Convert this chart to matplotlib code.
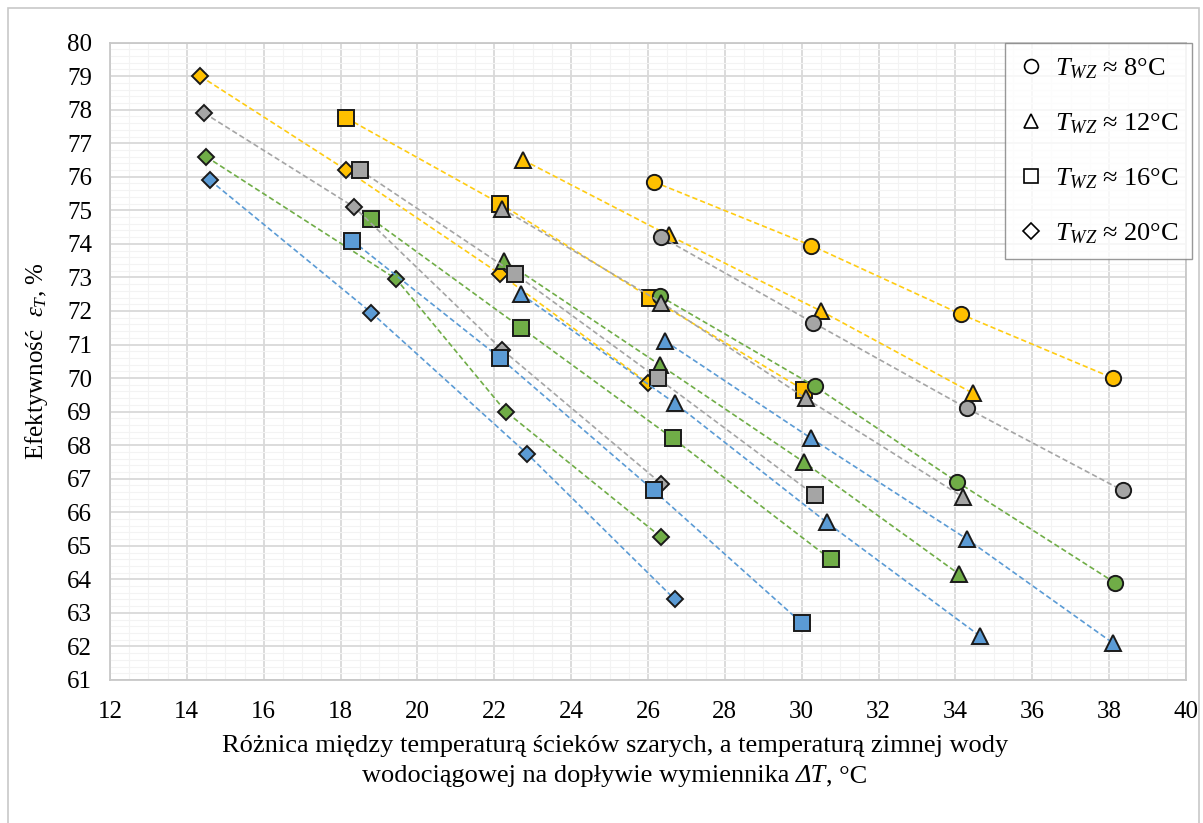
import matplotlib
matplotlib.use("Agg")
import matplotlib.pyplot as plt
from matplotlib.lines import Line2D
from matplotlib.patches import Rectangle
from matplotlib.ticker import MultipleLocator

plt.rcParams["font.family"] = ["Liberation Serif", "DejaVu Serif"]
plt.rcParams["mathtext.fontset"] = "custom"
plt.rcParams["mathtext.rm"] = "Liberation Serif"
plt.rcParams["mathtext.it"] = "Liberation Serif:italic"

# ---- measured points: temperature difference dT [°C] and effectiveness [%] ----
# yellow series
dt_yel_circ = [26.15, 30.25, 34.15, 38.10]
ef_yel_circ = [75.85, 73.95, 71.90, 70.00]
dt_yel_tri = [22.75, 26.55, 30.50, 34.45]
ef_yel_tri = [76.50, 74.25, 72.00, 69.55]
dt_yel_sq = [18.15, 22.15, 26.05, 30.05]
ef_yel_sq = [77.75, 75.20, 72.40, 69.65]
dt_yel_dia = [14.35, 18.15, 22.15, 26.00]
ef_yel_dia = [79.00, 76.20, 73.10, 69.85]

# green series
dt_grn_circ = [26.30, 30.35, 34.05, 38.15]
ef_grn_circ = [72.45, 69.75, 66.90, 63.90]
dt_grn_tri = [22.25, 26.30, 30.05, 34.10]
ef_grn_tri = [73.50, 70.40, 67.50, 64.15]
dt_grn_sq = [18.80, 22.70, 26.65, 30.75]
ef_grn_sq = [74.75, 71.50, 68.20, 64.60]
dt_grn_dia = [14.50, 19.45, 22.30, 26.35]
ef_grn_dia = [76.60, 72.95, 69.00, 65.25]

# grey series
dt_gry_circ = [26.35, 30.30, 34.30, 38.35]
ef_gry_circ = [74.20, 71.65, 69.10, 66.65]
dt_gry_tri = [22.20, 26.35, 30.10, 34.20]
ef_gry_tri = [75.05, 72.25, 69.40, 66.45]
dt_gry_sq = [18.50, 22.55, 26.25, 30.35]
ef_gry_sq = [76.20, 73.10, 70.00, 66.50]
dt_gry_dia = [14.45, 18.35, 22.20, 26.35]
ef_gry_dia = [77.90, 75.10, 70.85, 66.85]

# blue series
dt_blu_tri_a = [26.45, 30.25, 34.30, 38.10]
ef_blu_tri_a = [71.10, 68.20, 65.20, 62.10]
dt_blu_tri = [22.70, 26.70, 30.65, 34.65]
ef_blu_tri = [72.50, 69.25, 65.70, 62.30]
dt_blu_sq = [18.30, 22.15, 26.15, 30.00]
ef_blu_sq = [74.10, 70.60, 66.65, 62.70]
dt_blu_dia = [14.60, 18.80, 22.85, 26.70]
ef_blu_dia = [75.90, 71.95, 67.75, 63.40]

legend_labels = [r"$T_{WZ}$ ≈ 8°C", r"$T_{WZ}$ ≈ 12°C",
                 r"$T_{WZ}$ ≈ 16°C", r"$T_{WZ}$ ≈ 20°C"]

YELLOW = "#FFC000"
YELLOW_LINE = "#FFCC12"
GREY = "#A5A5A5"
GREEN = "#70AD47"
BLUE = "#5B9BD5"

W, H = 1203, 823
fig = plt.figure(figsize=(W / 100, H / 100), dpi=100)
fig.patches.append(Rectangle((8 / W, -0.01), (1199 - 8) / W, 1.0 - 8 / H + 0.01,
                             transform=fig.transFigure, fill=False,
                             edgecolor="#c8c8c8", linewidth=1.2))

ax = fig.add_axes([110 / W, 1 - 680 / H, (1186 - 110) / W, (680 - 42.6) / H])

marker_style = {"o": 11, "^": 11, "s": 11, "D": 8.5}


def series(x, y, color, marker, line_color=None):
    ax.plot(x, y, linestyle=(0, (3.2, 1.8)), linewidth=1.2,
            color=line_color or color, marker=marker,
            markersize=marker_style[marker], markerfacecolor=color,
            markeredgecolor="#1a1a1a", markeredgewidth=1.4, zorder=3)


series(dt_yel_circ, ef_yel_circ, YELLOW, "o", YELLOW_LINE)
series(dt_yel_tri, ef_yel_tri, YELLOW, "^", YELLOW_LINE)
series(dt_yel_sq, ef_yel_sq, YELLOW, "s", YELLOW_LINE)
series(dt_yel_dia, ef_yel_dia, YELLOW, "D", YELLOW_LINE)

series(dt_grn_circ, ef_grn_circ, GREEN, "o")
series(dt_grn_tri, ef_grn_tri, GREEN, "^")
series(dt_grn_sq, ef_grn_sq, GREEN, "s")
series(dt_grn_dia, ef_grn_dia, GREEN, "D")

series(dt_gry_circ, ef_gry_circ, GREY, "o")
series(dt_gry_tri, ef_gry_tri, GREY, "^")
series(dt_gry_sq, ef_gry_sq, GREY, "s")
series(dt_gry_dia, ef_gry_dia, GREY, "D")

series(dt_blu_tri_a, ef_blu_tri_a, BLUE, "^")
series(dt_blu_tri, ef_blu_tri, BLUE, "^")
series(dt_blu_sq, ef_blu_sq, BLUE, "s")
series(dt_blu_dia, ef_blu_dia, BLUE, "D")

ax.set_xlim(12, 40)
ax.set_ylim(61, 80)
ax.xaxis.set_major_locator(MultipleLocator(2))
ax.yaxis.set_major_locator(MultipleLocator(1))
ax.xaxis.set_minor_locator(MultipleLocator(0.5))
ax.yaxis.set_minor_locator(MultipleLocator(0.2))
ax.grid(which="major", color="#d9d9d9", linewidth=1.3, zorder=0)
ax.grid(which="minor", color="#f3f3f3", linewidth=0.8, zorder=0)
ax.set_axisbelow(True)
for s in ax.spines.values():
    s.set_color("#c8c8c8")
    s.set_linewidth(1.3)
ax.tick_params(which="both", length=0)
ax.tick_params(axis="x", pad=15, labelsize=18)
ax.tick_params(axis="y", pad=13, labelsize=18)

ax.set_ylabel(r"Efektywność  $\varepsilon_T$, %", fontsize=18, labelpad=12)

# two-line axis title under the x axis; "ΔT" is set in italics
xt_size = 19
fig.text(615 / W, 1 - 746 / H,
         "Różnica między temperaturą ścieków szarych, a temperaturą zimnej wody",
         ha="center", va="center", fontsize=xt_size)
parts = [("wodociągowej na dopływie wymiennika ", "normal"),
         ("ΔT", "italic"), (", °C", "normal")]
renderer = fig.canvas.get_renderer()
pieces = []
for txt, style in parts:
    t = fig.text(0, 1 - 776 / H, txt, ha="left", va="center",
                 fontsize=xt_size, fontstyle=style)
    pieces.append(t)
widths = [p.get_window_extent(renderer).width for p in pieces]
x0 = 615 - sum(widths) / 2
for p, w in zip(pieces, widths):
    p.set_x(x0 / W)
    x0 += w

handles = [Line2D([], [], linestyle="none", marker=m, markersize=ms,
                  markerfacecolor="white", markeredgecolor="black",
                  markeredgewidth=1.2)
           for m, ms in (("o", 10), ("^", 10), ("s", 10), ("D", 8))]
leg = ax.legend(handles, legend_labels, loc="upper right",
                bbox_to_anchor=(1192 / W, 1 - 43 / H),
                bbox_transform=fig.transFigure, fontsize=19,
                frameon=True, fancybox=False, labelspacing=1.15,
                handletextpad=0.4, handlelength=1.0, borderpad=0.5,
                borderaxespad=0)
leg.get_frame().set_edgecolor("#7f7f7f")
leg.get_frame().set_linewidth(1.0)

fig.savefig("out.png", dpi=100)
